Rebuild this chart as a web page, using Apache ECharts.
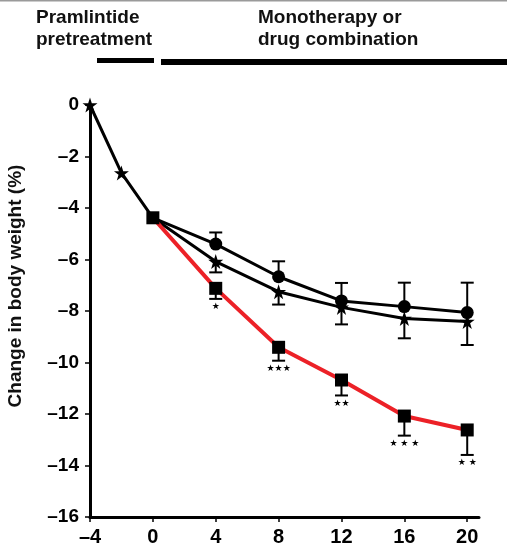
<!DOCTYPE html>
<html><head><meta charset="utf-8">
<script src="https://cdn.jsdelivr.net/npm/echarts@6/dist/echarts.min.js"></script>
<style>html,body{margin:0;padding:0;background:#fff}#c{width:507px;height:547px}</style>
</head><body><div id="c"></div>
<script>
// ---- data ----
const pretreatWeeks = [-4, -2, 0];
const pretreatValues = [0, -2.64, -4.38];
const weeks = [0, 4, 8, 12, 16, 20];
const circleValues = [-4.38, -5.40, -6.67, -7.61, -7.83, -8.06];
const circleErr = [0, 0.45, 0.60, 0.70, 0.93, 1.16];
const starValues = [-4.38, -6.08, -7.25, -7.86, -8.29, -8.41];
const starErr = [0, 0.42, 0.50, 0.66, 0.77, 0.91];
const comboValues = [-4.38, -7.12, -9.41, -10.68, -12.08, -12.62];
const comboErr = [0, 0.41, 0.52, 0.60, 0.76, 0.97];
const comboSig = ['', '★', '★★★', '★★', '★ ★ ★', '★ ★'];
const xTicks = [-4, 0, 4, 8, 12, 16, 20];
const headerLeft = ['Pramlintide', 'pretreatment'];
const headerRight = ['Monotherapy or', 'drug combination'];
const yTitle = 'Change in body weight (%)';

const FONT = "'Liberation Sans', Arial, Helvetica, sans-serif";
const RED = '#ec2127';
const STAR = 'path://M50,0 L61.8,35.3 L99,35.3 L69,57.3 L80.2,92.7 L50,70.8 L19.8,92.7 L31,57.3 L1,35.3 L38.2,35.3 Z';

function pairs(xs, ys) { return xs.map((x, i) => [x, ys[i]]); }
function errData(vals, errs, dir) {
  const out = [];
  weeks.forEach((w, i) => { if (errs[i] > 0) out.push([w, vals[i], vals[i] + dir * errs[i], i]); });
  return out;
}
function errRender(sig) {
  return function (params, api) {
    const x = api.value(0), v = api.value(1), e = api.value(2), idx = api.value(3);
    const p0 = api.coord([x, v]), p1 = api.coord([x, e]);
    const children = [
      { type: 'line', shape: { x1: p0[0], y1: p0[1], x2: p1[0], y2: p1[1] }, style: { stroke: '#000', lineWidth: 2 } },
      { type: 'line', shape: { x1: p1[0] - 6.5, y1: p1[1], x2: p1[0] + 6.5, y2: p1[1] }, style: { stroke: '#000', lineWidth: 2 } }
    ];
    if (sig && sig[idx]) {
      children.push({ type: 'text', x: p1[0], y: p1[1] + 8,
        style: { text: sig[idx], fill: '#000', fontSize: 9, fontFamily: 'DejaVu Sans', align: 'center', verticalAlign: 'middle' } });
    }
    return { type: 'group', children };
  };
}
function noFirst(val, params) { return params.dataIndex === 0 ? 0 : 13; }

const chart = echarts.init(document.getElementById('c'), null, { renderer: 'canvas' });
chart.setOption({
  animation: false,
  backgroundColor: '#fff',
  grid: { left: 90, right: 28, top: 105, bottom: 30 },
  xAxis: {
    type: 'value', min: -4, max: 20.75,
    splitLine: { show: false },
    axisLine: { onZero: false, lineStyle: { color: '#000', width: 3 } },
    axisTick: { customValues: xTicks, length: 5, lineStyle: { color: '#000', width: 1.5 } },
    axisLabel: { customValues: xTicks, margin: 10, color: '#000', fontSize: 20, fontWeight: 'bold', fontFamily: FONT,
      formatter: v => String(v).replace('-', '\u2013') }
  },
  yAxis: {
    type: 'value', min: -16, max: 0, interval: 2,
    splitLine: { show: false },
    axisLine: { show: true, onZero: false, lineStyle: { color: '#000', width: 3 } },
    axisTick: { show: true, length: 5, lineStyle: { color: '#000', width: 1.5 } },
    axisLabel: { margin: 11, color: '#000', fontSize: 19, fontWeight: 'bold', fontFamily: FONT,
      formatter: v => String(v).replace('-', '\u2013') }
  },
  series: [
    { type: 'custom', renderItem: errRender(null), data: errData(circleValues, circleErr, 1), clip: false, z: 1 },
    { type: 'custom', renderItem: errRender(null), data: errData(starValues, starErr, -1), clip: false, z: 1 },
    { type: 'custom', renderItem: errRender(comboSig), data: errData(comboValues, comboErr, -1), clip: false, z: 1 },
    { type: 'line', data: pairs(pretreatWeeks, pretreatValues), clip: false, z: 3,
      symbol: STAR, symbolSize: (v, p) => p.dataIndex === 2 ? 0 : 15,
      lineStyle: { color: '#000', width: 3 }, itemStyle: { color: '#000' } },
    { type: 'line', data: pairs(weeks, circleValues), clip: false, z: 3,
      symbol: 'circle', symbolSize: noFirst,
      lineStyle: { color: '#000', width: 3 }, itemStyle: { color: '#000' } },
    { type: 'line', data: pairs(weeks, starValues), clip: false, z: 3,
      symbol: STAR, symbolSize: (v, p) => p.dataIndex === 0 ? 0 : 15,
      lineStyle: { color: '#000', width: 3 }, itemStyle: { color: '#000' } },
    { type: 'line', data: pairs(weeks, comboValues), clip: false, z: 4,
      symbol: 'rect', symbolSize: 13,
      lineStyle: { color: RED, width: 4 }, itemStyle: { color: '#000' } }
  ],
  graphic: [
    { type: 'rect', left: 0, top: 0, shape: { width: 507, height: 1.5 }, style: { fill: '#9a9a9a' } },
    { type: 'text', left: 36, top: 7, style: { text: headerLeft.join('\n'), fill: '#111', fontSize: 19, fontWeight: 'bold', fontFamily: FONT, lineHeight: 22 } },
    { type: 'text', left: 258, top: 7, style: { text: headerRight.join('\n'), fill: '#111', fontSize: 19, fontWeight: 'bold', fontFamily: FONT, lineHeight: 22 } },
    { type: 'rect', left: 97, top: 58, shape: { width: 57, height: 5 }, style: { fill: '#000' } },
    { type: 'rect', left: 161, top: 59, shape: { width: 346, height: 6 }, style: { fill: '#000' } },
    { type: 'text', x: 16, y: 286, rotation: Math.PI / 2,
      style: { text: yTitle, fill: '#111', fontSize: 19, fontWeight: 'bold', fontFamily: FONT, align: 'center', verticalAlign: 'middle' } }
  ]
});
</script>
</body></html>
